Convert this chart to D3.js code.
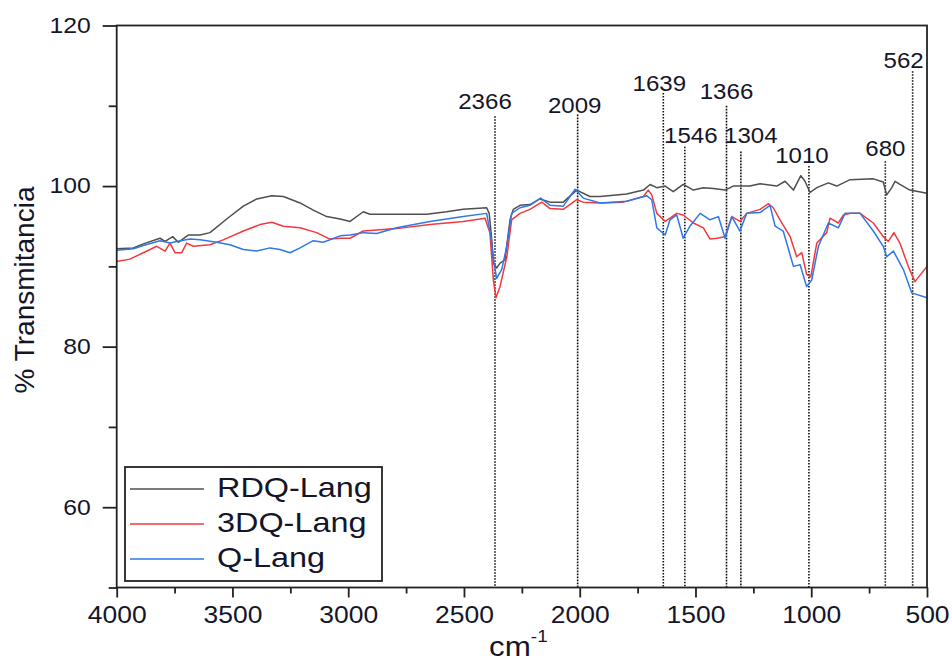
<!DOCTYPE html>
<html>
<head>
<meta charset="utf-8">
<script src="https://cdn.jsdelivr.net/npm/d3@7"></script>
<style>
  body { margin: 0; background: #fff; }
  svg { display: block; font-family: "Liberation Sans", Arial, sans-serif; }
</style>
</head>
<body>
<script>
// FTIR spectra
var rdqWn = [4000,3928,3885,3813,3791,3758,3734,3691,3640,3597,3525,3453,3395,3330,3280,3208,3151,3093,3035,2992,2935,2906,2848,2661,2575,2503,2402,2391,2380,2373,2359,2344,2323,2301,2287,2258,2215,2172,2128,2071,2013,1956,1912,1797,1725,1696,1667,1631,1596,1553,1509,1466,1423,1372,1337,1265,1221,1149,1113,1077,1045,1027,1005,976,926,890,832,732,689,674,652,638,617,574,500];
var rdqT  = [92.2,92.3,92.8,93.5,93.1,93.7,93.0,93.9,93.9,94.2,95.9,97.5,98.4,98.8,98.7,97.9,97.0,96.2,95.9,95.6,96.8,96.5,96.5,96.5,96.8,97.1,97.3,96.6,93.3,90.4,89.8,90.4,90.8,95.8,97.1,97.6,97.7,98.4,98.0,98.0,99.5,98.7,98.7,99.0,99.5,100.2,99.8,100.0,99.3,100.2,99.5,99.8,99.7,99.5,100.0,100.0,100.3,100.0,100.6,99.5,101.3,100.6,99.2,99.8,100.4,100.0,100.8,100.9,100.5,98.9,99.8,100.6,100.2,99.5,99.1];

var dq3Wn = [4000,3943,3885,3827,3791,3770,3748,3719,3698,3669,3597,3540,3453,3381,3330,3280,3208,3136,3079,3035,2992,2935,2791,2647,2503,2409,2388,2373,2362,2344,2315,2294,2258,2215,2164,2128,2071,2013,1985,1912,1812,1725,1704,1689,1667,1631,1610,1581,1553,1509,1466,1437,1408,1372,1343,1308,1279,1221,1185,1164,1135,1091,1063,1041,1020,1002,976,933,919,883,861,832,789,732,689,667,643,617,581,552,500];
var dq3T  = [90.6,90.9,91.7,92.5,91.9,92.9,91.7,91.7,92.9,92.5,92.7,93.3,94.4,95.2,95.5,95.0,94.8,94.2,93.4,93.5,93.5,94.4,94.7,95.2,95.6,96.0,94.2,88.3,86.1,87.5,91.2,95.8,96.6,97.1,98.0,97.2,97.1,98.3,98.0,97.9,98.0,98.7,99.5,98.9,96.6,95.6,96.0,96.6,96.4,95.4,94.8,93.4,93.5,93.7,96.2,95.6,96.6,97.1,97.8,97.3,95.8,93.7,91.2,91.7,89.0,88.7,92.9,94.2,96.0,95.4,96.4,96.6,96.6,95.4,93.7,93.1,94.2,92.9,90.0,88.1,90.0];

var qWn = [4000,3928,3885,3813,3770,3741,3683,3640,3568,3511,3453,3395,3338,3295,3251,3208,3151,3108,3035,2992,2935,2877,2791,2647,2503,2402,2384,2370,2359,2337,2315,2294,2258,2215,2169,2128,2071,2020,1985,1912,1797,1711,1689,1667,1631,1610,1581,1553,1524,1480,1437,1401,1372,1343,1308,1279,1221,1178,1156,1121,1077,1048,1020,998,969,926,883,854,789,732,689,674,645,602,566,500];
var qT  = [92.0,92.2,92.6,93.2,92.9,93.1,93.4,93.3,93.0,92.7,92.1,91.9,92.3,92.1,91.7,92.3,93.2,93.0,93.8,93.9,94.2,94.1,94.8,95.6,96.2,96.6,93.7,90.4,88.5,89.6,92.5,96.6,97.3,97.6,98.5,97.6,97.5,99.6,98.5,97.9,98.1,98.8,98.3,94.8,93.9,95.8,96.4,93.5,95.0,96.6,95.8,96.2,93.5,96.2,94.4,96.6,96.7,97.6,95.0,94.4,90.0,90.2,87.5,88.3,92.5,95.4,94.8,96.6,96.6,94.4,92.5,91.2,91.9,89.6,86.7,86.1];

var seriesNames = ["RDQ-Lang", "3DQ-Lang", "Q-Lang"];
var seriesColors = ["#4f4f4f", "#f5383c", "#2f78e8"];

// marked peaks: wavenumber, top of the dotted line and label baseline (in % T)
var peakWn     = [2366, 2009, 1639, 1546, 1366, 1304, 1010, 680, 562];
var peakTopT   = [108.7, 108.9, 111.6, 104.9, 110.0, 104.3, 102.5, 103.1, 114.3];
var peakLabelT = [109.6, 109.1, 111.8, 105.4, 110.8, 105.4, 102.9, 103.8, 114.7];
var peakLabelDx = [-10, -3, -4, 6, 0, 10, -7, 0, -9];

var xMajor = [4000, 3500, 3000, 2500, 2000, 1500, 1000, 500];
var xMinor = [3750, 3250, 2750, 2250, 1750, 1250, 750];
var yMajor = [60, 80, 100, 120];
var yMinor = [50, 70, 90, 110];

var width = 952, height = 662;
var stretch = 1.15; // the original text is a bit wide
var svg = d3.select("body").append("svg")
    .attr("width", width)
    .attr("height", height);

var x = d3.scaleLinear().domain([4000, 500]).range([116.7, 927]);
var y = d3.scaleLinear().domain([50, 120]).range([587.5, 25.5]);

var textColor = "#15152a";

// wide text helper
function wideText(g, tx, ty, sx, str, size, anchor) {
    return g.append("text")
        .attr("transform", "translate(" + tx + "," + ty + ") scale(" + sx + ",1)")
        .attr("text-anchor", anchor || "start")
        .style("font-size", size + "px")
        .attr("fill", textColor)
        .text(str);
}

// dotted peak markers
var marks = svg.append("g");
peakWn.forEach(function(wn, i) {
    marks.append("line")
        .attr("x1", x(wn)).attr("x2", x(wn))
        .attr("y1", y(peakTopT[i])).attr("y2", y(50))
        .attr("stroke", "#111")
        .attr("stroke-width", 1.6)
        .attr("stroke-dasharray", "1.6,1.4");
    wideText(marks, x(wn) + peakLabelDx[i], y(peakLabelT[i]), 1.12, wn, 21.5, "middle");
});

// spectra
var line = d3.line()
    .x(function(d) { return x(d[0]); })
    .y(function(d) { return y(d[1]); });

var spectra = [d3.zip(rdqWn, rdqT), d3.zip(dq3Wn, dq3T), d3.zip(qWn, qT)];
spectra.forEach(function(s, i) {
    svg.append("path")
        .datum(s)
        .attr("d", line)
        .attr("fill", "none")
        .attr("stroke", seriesColors[i])
        .attr("stroke-width", 1.5)
        .attr("stroke-linejoin", "round");
});

// frame
svg.append("rect")
    .attr("x", x(4000)).attr("y", y(120))
    .attr("width", x(500) - x(4000)).attr("height", y(50) - y(120))
    .attr("fill", "none")
    .attr("stroke", "#222")
    .attr("stroke-width", 1.8);

// axes
function styleAxis(g) {
    g.select(".domain").remove();
    g.selectAll(".tick line").attr("stroke", "#222").attr("stroke-width", 1.8);
    g.selectAll(".tick text").attr("fill", textColor)
        .style("font-family", "'Liberation Sans', Arial, sans-serif");
}

svg.append("g")
    .attr("transform", "translate(" + x(4000) + ",0)")
    .call(d3.axisLeft(y).tickValues(yMinor).tickSize(8).tickFormat(""))
    .call(styleAxis);
svg.append("g")
    .attr("transform", "translate(" + x(4000) + ",0)")
    .call(d3.axisLeft(y).tickValues(yMajor).tickSize(14).tickPadding(12).tickFormat(d3.format("d")))
    .call(styleAxis)
    .call(function(g) {
        g.selectAll(".tick text")
            .style("font-size", "21.5px")
            .attr("x", -26 / stretch)
            .attr("transform", "scale(" + stretch + ",1)");
    });

svg.append("g")
    .attr("transform", "translate(0," + y(50) + ")")
    .call(d3.axisBottom(x).tickValues(xMinor).tickSize(6).tickFormat(""))
    .call(styleAxis);
svg.append("g")
    .attr("transform", "translate(0," + y(50) + ")")
    .call(d3.axisBottom(x).tickValues(xMajor).tickSize(10).tickPadding(9).tickFormat(d3.format("d")))
    .call(styleAxis)
    .call(function(g) {
        g.selectAll(".tick text")
            .style("font-size", "23px")
            .attr("transform", "scale(" + stretch + ",1)");
    });

// axis titles
svg.append("text")
    .attr("transform", "translate(34,290) rotate(-90)")
    .attr("text-anchor", "middle")
    .style("font-size", "28px")
    .attr("fill", textColor)
    .text("% Transmitancia");

var xt = wideText(svg, 489, 656, 1.12, "", 28);
xt.append("tspan").text("cm");
xt.append("tspan").attr("dy", -14).style("font-size", "17px").text("-1");

// legend
var legend = svg.append("g");
legend.append("rect")
    .attr("x", 125).attr("y", 467)
    .attr("width", 257).attr("height", 114)
    .attr("fill", "#fff")
    .attr("stroke", "#222")
    .attr("stroke-width", 1.8);
seriesNames.forEach(function(name, i) {
    var ly = 489 + i * 35;
    legend.append("line")
        .attr("x1", 130).attr("x2", 204)
        .attr("y1", ly).attr("y2", ly)
        .attr("stroke", seriesColors[i])
        .attr("stroke-width", 1.5);
    wideText(legend, 217, ly + 8, 1.2, name, 27);
});
</script>
</body>
</html>
